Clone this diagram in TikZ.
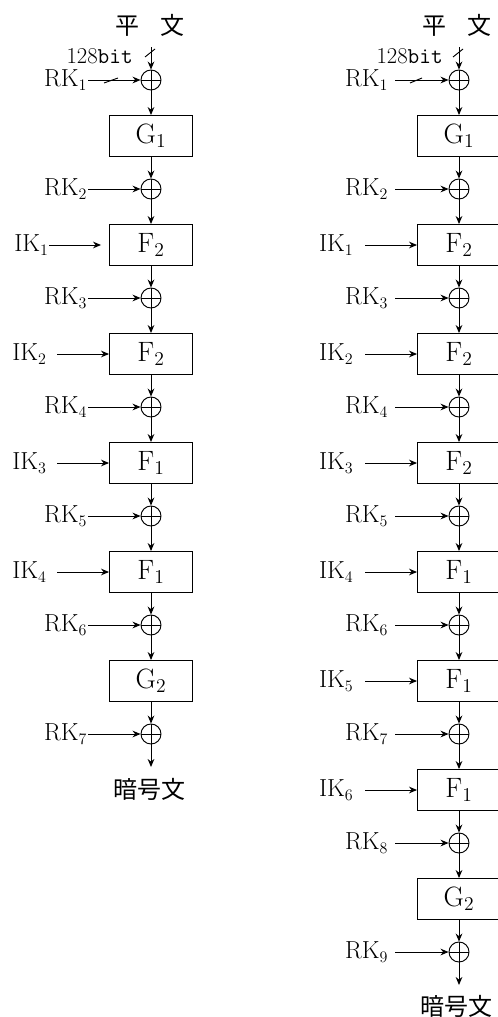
\documentclass[tikz,border=0pt]{standalone}
\usepackage{fontspec}
\newfontfamily\cjk{Noto Sans CJK JP}
\usetikzlibrary{arrows.meta}

\tikzset{
  wire/.style={line width=0.7pt},
  arr/.style={wire, -{Stealth[length=6pt,width=5pt]}},
  xorop/.style={circle, draw, line width=0.7pt, minimum size=15pt, inner sep=0pt,
    path picture={\draw[line width=0.6pt]
      (path picture bounding box.north) -- (path picture bounding box.south)
      (path picture bounding box.west) -- (path picture bounding box.east);}},
  roundbox/.style={draw, line width=0.7pt, minimum width=62.25pt, minimum height=30.75pt,
    inner sep=0pt, font=\fontsize{21}{23}\selectfont},
  keylabel/.style={anchor=east, inner ysep=0pt, font=\fontsize{18.5}{20}\selectfont},
  cjklabel/.style={inner sep=0pt, font=\cjk\fontsize{18}{20}\selectfont},
  bitlabel/.style={anchor=base east, inner sep=0pt, font=\fontsize{17}{19}\selectfont},
  tick/.style={line width=0.7pt}
}

\begin{document}
\begin{tikzpicture}[x=0.75pt, y=-0.75pt]
\useasboundingbox (0,0) rectangle (497,1017);

% ---------------- left column: 6 rounds ----------------
\foreach \k/\f in {1/G_1, 2/F_2, 3/F_2, 4/F_1, 5/F_1, 6/G_2}
  \node[roundbox] (Lb\k) at (151,{136+(\k-1)*109}) {$\mathrm{\f}$};
\foreach \k in {1,...,7} {
  \node[keylabel, inner xsep=0.5pt] (Lrk\k) at (88,{80+(\k-1)*109}) {RK$_{\k}$};
  \node[xorop] (Lx\k) at (151,{80+(\k-1)*109}) {};
  \draw[arr] (Lrk\k.east) -- (Lx\k.west);
}
\foreach \k in {1,...,6} {
  \pgfmathtruncatemacro\n{\k+1}
  \draw[arr] (Lx\k.south) -- (Lb\k.north);
  \draw[arr] (Lb\k.south) -- (Lx\n.north);
}
% whitening keys into the F rounds
\node[keylabel, inner xsep=0pt] (Lik1) at (49,245) {IK$_{1}$};
\draw[arr, shorten >=6pt] (Lik1.east) -- (Lb2.west);
\foreach \k in {2,3,4} {
  \pgfmathtruncatemacro\b{\k+1}
  \node[keylabel, inner xsep=7.5pt] (Lik\k) at (57,{136+\k*109}) {IK$_{\k}$};
  \draw[arr] (Lik\k.east) -- (Lb\b.west);
}
% plaintext input and ciphertext output
\node[cjklabel] (Lpt) at (150,25) {平\hspace{0.85em}文};
\coordinate (Lin) at (151,47);
\draw[arr] (Lin) -- (Lx1.north);
\draw[tick] (Lin) ++(-6,10) -- ++(10,-8);
\draw[tick] (Lrk1.east) ++(16,3) -- ++(14,-5);
\node[bitlabel] (Lbit) at (133,63) {128\texttt{bit}};
\coordinate (Lout) at (151,767);
\draw[arr] (Lx7.south) -- (Lout);
\node[cjklabel] (Lct) at (149,789) {暗号文};

% ---------------- right column: 8 rounds ----------------
\foreach \k/\f in {1/G_1, 2/F_2, 3/F_2, 4/F_2, 5/F_1, 6/F_1, 7/F_1, 8/G_2}
  \node[roundbox] (Rb\k) at (459,{136+(\k-1)*109}) {$\mathrm{\f}$};
\foreach \k in {1,...,9} {
  \node[keylabel, inner xsep=5pt] (Rrk\k) at (395,{80+(\k-1)*109}) {RK$_{\k}$};
  \node[xorop] (Rx\k) at (459,{80+(\k-1)*109}) {};
  \draw[arr] (Rrk\k.east) -- (Rx\k.west);
}
\foreach \k in {1,...,8} {
  \pgfmathtruncatemacro\n{\k+1}
  \draw[arr] (Rx\k.south) -- (Rb\k.north);
  \draw[arr] (Rb\k.south) -- (Rx\n.north);
}
\foreach \k in {1,...,6} {
  \pgfmathtruncatemacro\b{\k+1}
  \node[keylabel, inner xsep=8.5pt] (Rik\k) at (365,{136+\k*109}) {IK$_{\k}$};
  \draw[arr] (Rik\k.east) -- (Rb\b.west);
}
\node[cjklabel] (Rpt) at (457,25) {平\hspace{0.85em}文};
\coordinate (Rin) at (459,47);
\draw[arr] (Rin) -- (Rx1.north);
\draw[tick] (Rin) ++(-6,10) -- ++(10,-8);
\draw[tick] (Rrk1.east) ++(15,3) -- ++(12,-5);
\node[bitlabel] (Rbit) at (443,63) {128\texttt{bit}};
\coordinate (Rout) at (459,985);
\draw[arr] (Rx9.south) -- (Rout);
\node[cjklabel] (Rct) at (456,1006) {暗号文};
\end{tikzpicture}
\end{document}
